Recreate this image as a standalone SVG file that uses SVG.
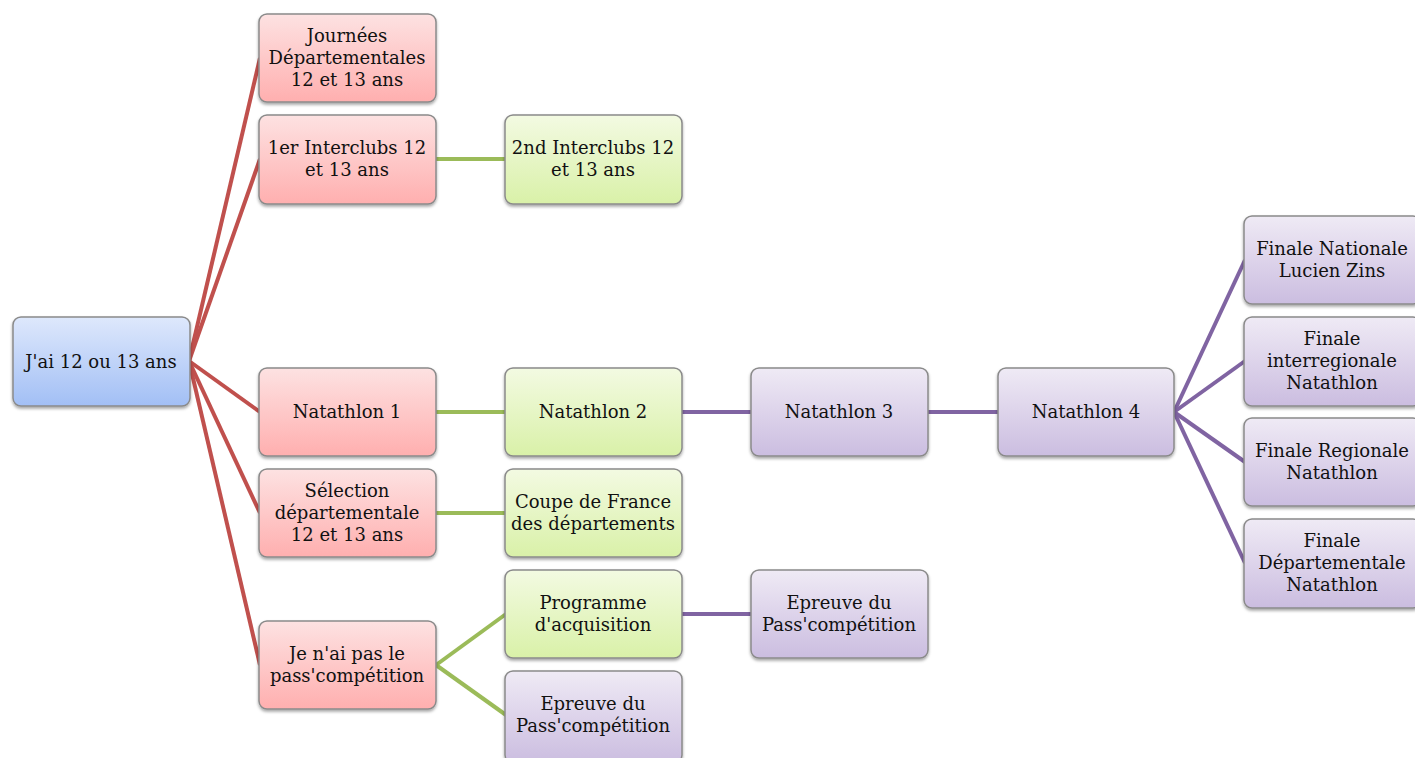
<svg xmlns="http://www.w3.org/2000/svg" width="1415" height="758" viewBox="0 0 1415 758">
<defs>
<linearGradient id="gB" x1="0" y1="0" x2="0" y2="1"><stop offset="0" stop-color="#dee8fc"/><stop offset="1" stop-color="#a2bff5"/></linearGradient>
<linearGradient id="gR" x1="0" y1="0" x2="0" y2="1"><stop offset="0" stop-color="#fde2e2"/><stop offset="1" stop-color="#ffafaf"/></linearGradient>
<linearGradient id="gG" x1="0" y1="0" x2="0" y2="1"><stop offset="0" stop-color="#f3fae2"/><stop offset="1" stop-color="#d9f1a8"/></linearGradient>
<linearGradient id="gP" x1="0" y1="0" x2="0" y2="1"><stop offset="0" stop-color="#efeaf5"/><stop offset="1" stop-color="#cbbde0"/></linearGradient>
<filter id="sh" x="-10%" y="-10%" width="120%" height="130%"><feDropShadow dx="0" dy="2" stdDeviation="1.5" flood-color="#000" flood-opacity="0.35"/></filter>
</defs>
<style>
.n rect{stroke:#8a8a8a;stroke-width:1.5;filter:url(#sh)}
.b rect{fill:url(#gB)}
.r rect{fill:url(#gR)}
.g rect{fill:url(#gG)}
.p rect{fill:url(#gP)}
text{font-family:"DejaVu Serif","Liberation Serif",serif;font-size:18px;fill:#111;text-anchor:middle}
.c line{stroke-width:4;stroke-linecap:butt}
.cr line{stroke:#c0504d}
.cg line{stroke:#9bbb59}
.cp line{stroke:#8064a2}
</style>
<rect width="1415" height="758" fill="#fff"/>
<g id="connectors" class="c">
<g class="cr">
<line x1="189" y1="361" x2="260" y2="58"/>
<line x1="189" y1="361" x2="260" y2="159"/>
<line x1="189" y1="361" x2="260" y2="412"/>
<line x1="189" y1="361" x2="260" y2="513"/>
<line x1="189" y1="361" x2="260" y2="665"/>
</g>
<g class="cg">
<line x1="436" y1="159" x2="506" y2="159"/>
<line x1="436" y1="412" x2="506" y2="412"/>
<line x1="436" y1="513" x2="506" y2="513"/>
<line x1="436" y1="665" x2="506" y2="614"/>
<line x1="436" y1="665" x2="506" y2="715"/>
</g>
<g class="cp">
<line x1="682" y1="412" x2="752" y2="412"/>
<line x1="928" y1="412" x2="998" y2="412"/>
<line x1="682" y1="614" x2="752" y2="614"/>
<line x1="1174" y1="412" x2="1245" y2="260"/>
<line x1="1174" y1="412" x2="1245" y2="361"/>
<line x1="1174" y1="412" x2="1245" y2="462"/>
<line x1="1174" y1="412" x2="1245" y2="563"/>
</g>
</g>
<g id="root" class="n b"><rect x="13" y="317" width="177" height="89" rx="8"/><text x="101" y="368">J'ai 12 ou 13 ans</text></g>
<g id="journees" class="n r"><rect x="259" y="14" width="177" height="88" rx="8"/><text x="347" y="42">Journées</text><text x="347" y="64">Départementales</text><text x="347" y="86">12 et 13 ans</text></g>
<g id="interclubs1" class="n r"><rect x="259" y="115" width="177" height="89" rx="8"/><text x="347" y="154">1er Interclubs 12</text><text x="347" y="176">et 13 ans</text></g>
<g id="natathlon1" class="n r"><rect x="259" y="368" width="177" height="88" rx="8"/><text x="347" y="418">Natathlon 1</text></g>
<g id="selection" class="n r"><rect x="259" y="469" width="177" height="88" rx="8"/><text x="347" y="497">Sélection</text><text x="347" y="519">départementale</text><text x="347" y="541">12 et 13 ans</text></g>
<g id="pas" class="n r"><rect x="259" y="621" width="177" height="88" rx="8"/><text x="347" y="660">Je n'ai pas le</text><text x="347" y="682">pass'compétition</text></g>
<g id="interclubs2" class="n g"><rect x="505" y="115" width="177" height="89" rx="8"/><text x="593" y="154">2nd Interclubs 12</text><text x="593" y="176">et 13 ans</text></g>
<g id="natathlon2" class="n g"><rect x="505" y="368" width="177" height="88" rx="8"/><text x="593" y="418">Natathlon 2</text></g>
<g id="coupe" class="n g"><rect x="505" y="469" width="177" height="88" rx="8"/><text x="593" y="508">Coupe de France</text><text x="593" y="530">des départements</text></g>
<g id="programme" class="n g"><rect x="505" y="570" width="177" height="88" rx="8"/><text x="593" y="609">Programme</text><text x="593" y="631">d'acquisition</text></g>
<g id="epreuve1" class="n p"><rect x="505" y="671" width="177" height="92" rx="8"/><text x="593" y="710">Epreuve du</text><text x="593" y="732">Pass'compétition</text></g>
<g id="natathlon3" class="n p"><rect x="751" y="368" width="177" height="88" rx="8"/><text x="839" y="418">Natathlon 3</text></g>
<g id="epreuve2" class="n p"><rect x="751" y="570" width="177" height="88" rx="8"/><text x="839" y="609">Epreuve du</text><text x="839" y="631">Pass'compétition</text></g>
<g id="natathlon4" class="n p"><rect x="998" y="368" width="176" height="88" rx="8"/><text x="1086" y="418">Natathlon 4</text></g>
<g id="fnat" class="n p"><rect x="1244" y="216" width="177" height="88" rx="8"/><text x="1332" y="255">Finale Nationale</text><text x="1332" y="277">Lucien Zins</text></g>
<g id="finter" class="n p"><rect x="1244" y="317" width="177" height="89" rx="8"/><text x="1332" y="345">Finale</text><text x="1332" y="367">interregionale</text><text x="1332" y="389">Natathlon</text></g>
<g id="freg" class="n p"><rect x="1244" y="418" width="177" height="88" rx="8"/><text x="1332" y="457">Finale Regionale</text><text x="1332" y="479">Natathlon</text></g>
<g id="fdep" class="n p"><rect x="1244" y="519" width="177" height="89" rx="8"/><text x="1332" y="547">Finale</text><text x="1332" y="569">Départementale</text><text x="1332" y="591">Natathlon</text></g>
</svg>
